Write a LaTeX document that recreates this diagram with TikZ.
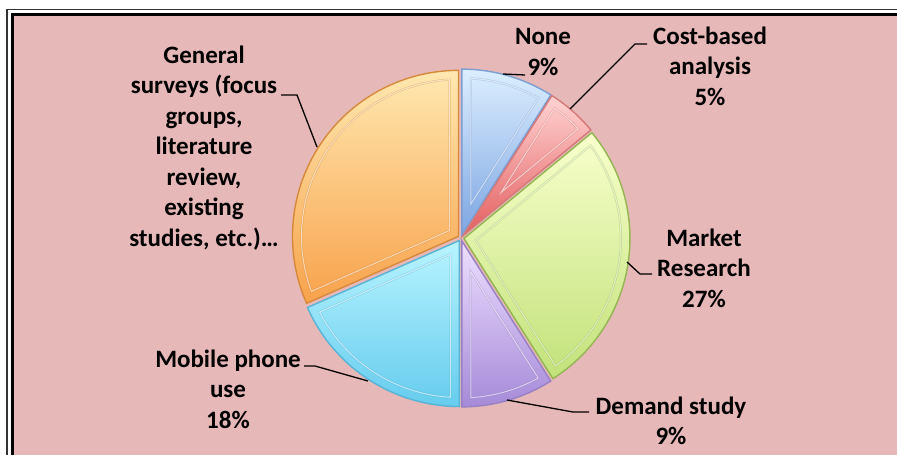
\documentclass[tikz,border=0pt]{standalone}
\usepackage{fontspec}
\setmainfont{Carlito}
\usepackage{tikz}
\usepackage{xcolor}

\definecolor{bgpink}{HTML}{E6B8B7}
\definecolor{noneT}{HTML}{DCEEFF}\definecolor{noneB}{HTML}{7DA6E2}\definecolor{noneE}{HTML}{7C9ED2}
\definecolor{costT}{HTML}{FFD3D3}\definecolor{costB}{HTML}{E45E5E}\definecolor{costE}{HTML}{D47878}
\definecolor{mktT}{HTML}{F8FFCC}\definecolor{mktB}{HTML}{C2E27A}\definecolor{mktE}{HTML}{93B651}
\definecolor{demT}{HTML}{EEDFFF}\definecolor{demB}{HTML}{A68AD8}\definecolor{demE}{HTML}{9780C4}
\definecolor{mobT}{HTML}{B8F4FF}\definecolor{mobB}{HTML}{66CCEE}\definecolor{mobE}{HTML}{58B4D6}
\definecolor{genT}{HTML}{FFE8B0}\definecolor{genB}{HTML}{F8A24C}\definecolor{genE}{HTML}{D6893A}

% one exploded slice: start, end, top colour, bottom colour, edge colour
\newcommand{\pieslice}[5]{%
  \pgfmathsetmacro{\midang}{(#1+#2)/2}%
  \pgfmathsetmacro{\apex}{9/sin((#2-#1)/2)}%
  \begin{scope}[shift={(\midang:3)}]
    \draw[draw=#5,line width=1.4,top color=#3,bottom color=#4]
      (0,0) -- (#1:166) arc[start angle=#1,end angle=#2,radius=166] -- cycle;
    \draw[draw=#5,line width=2.2,opacity=0.4]
      (\midang:\apex) -- (#1+3.3:157) arc[start angle=#1+3.3,end angle=#2-3.3,radius=157] -- cycle;
    \draw[draw=white,line width=1,opacity=0.6]
      (\midang:\apex) -- (#1+3.3:157) arc[start angle=#1+3.3,end angle=#2-3.3,radius=157] -- cycle;
  \end{scope}}

\begin{document}
\begin{tikzpicture}[x=1pt,y=1pt]%
  \tikzstyle{lbl}=[align=center,inner sep=0,font=\bfseries\fontsize{25}{30.5}\selectfont]
  \tikzstyle{lead}=[draw=black,line width=1.3]
  \useasboundingbox (0,0) rectangle (897,-455);
  \clip (0,0) rectangle (897,-455);
  \fill[white] (0,0) rectangle (897,-455);
  \fill[bgpink] (13.5,-16) rectangle (897,-455);
  \draw[line width=1.6,black!80] (7,-9.5) rectangle (930,-490);
  \draw[line width=3] (12,-14.5) rectangle (930,-490);
  % pie, clockwise from the top
  \begin{scope}[shift={(461,-238)}]
    \pieslice{57.6}{90}{noneT}{noneB}{noneE}
    \pieslice{39.6}{57.6}{costT}{costB}{costE}
    \pieslice{-57.6}{39.6}{mktT}{mktB}{mktE}
    \pieslice{-90}{-57.6}{demT}{demB}{demE}
    \pieslice{-156.2}{-90}{mobT}{mobB}{mobE}
    \pieslice{90}{203.8}{genT}{genB}{genE}
  \end{scope}
  % labels
  \node(gen)[lbl] at (204,-148) {General\\surveys (focus\\groups,\\literature\\review,\\existing\\studies, etc.)…};
  \node(none)[lbl] at (543,-52) {None\\9\%};
  \node(cost)[lbl] at (710,-66) {Cost-based\\analysis\\5\%};
  \node(mkt)[lbl] at (704,-268) {Market\\Research\\27\%};
  \node(dem)[lbl] at (671,-421) {Demand study\\9\%};
  \node(mob)[lbl] at (228,-389) {Mobile phone\\use\\18\%};
  % leader lines
  \coordinate(genA) at (281,-95);   \coordinate(genB) at (297,-95);   \coordinate(genP) at (317,-147);
  \coordinate(noneA) at (525,-75);  \coordinate(noneP) at (503,-74);
  \coordinate(costA) at (647,-44);  \coordinate(costB) at (635,-44);  \coordinate(costP) at (570,-109);
  \coordinate(mktA) at (652,-274);  \coordinate(mktB) at (640,-274);  \coordinate(mktP) at (627,-262);
  \coordinate(demA) at (589,-412);  \coordinate(demB) at (573,-412);  \coordinate(demP) at (507,-400);
  \coordinate(mobA) at (304,-366);  \coordinate(mobB) at (315,-366);  \coordinate(mobP) at (368,-381);
  \draw[lead] (genA) -- (genB) -- (genP);
  \draw[lead] (noneA) -- (noneP);
  \draw[lead] (costA) -- (costB) -- (costP);
  \draw[lead] (mktA) -- (mktB) -- (mktP);
  \draw[lead] (demA) -- (demB) -- (demP);
  \draw[lead] (mobA) -- (mobB) -- (mobP);
\end{tikzpicture}
\end{document}
